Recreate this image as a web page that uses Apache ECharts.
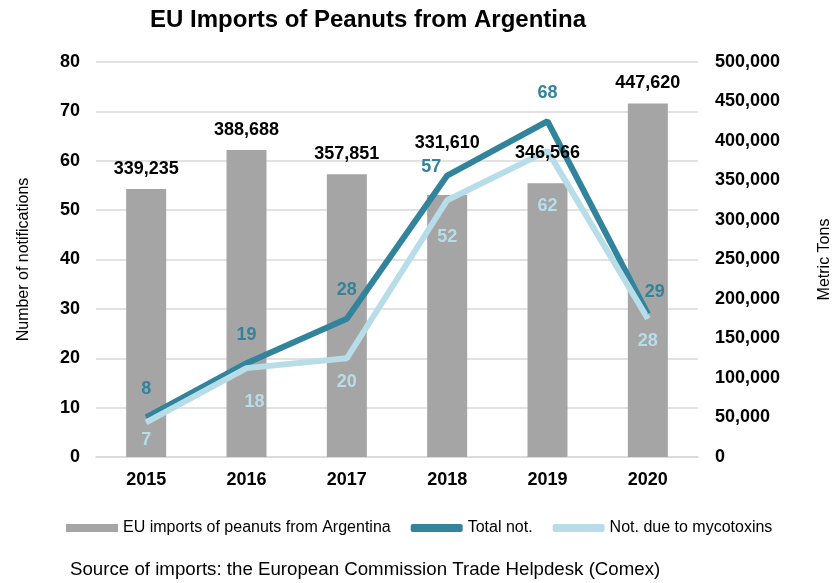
<!DOCTYPE html>
<html>
<head>
<meta charset="utf-8">
<script src="https://cdn.jsdelivr.net/npm/echarts@6/dist/echarts.min.js"></script>
<style>
  html, body { margin: 0; padding: 0; background: #fff; }
  #chart { width: 834px; height: 583px; }
</style>
</head>
<body>
<div id="chart"></div>
<script>
var years = ['2015', '2016', '2017', '2018', '2019', '2020'];
var importsTons = [339235, 388688, 357851, 331610, 346566, 447620];
var totalNot = [8, 19, 28, 57, 68, 29];
var mycoNot = [7, 18, 20, 52, 62, 28];

// label nudges, so the labels sit where the original puts them
var importsLabelShift = [[0, 0], [0, 0], [0, 0], [0, -32], [0, -10], [0, 0]];
var totalLabelShift = [[0, 0], [0, 0], [0, 0], [-16, 20], [0, 0], [7, 7]];
var mycoLabelShift = [[0, -6], [8, 10], [0, 0], [0, 13], [0, 32], [0, -1]];

var font = 'Liberation Sans, Arial, sans-serif';

function withShift(values, shifts) {
	return values.map(function(v, i) {
		return { value: v, label: { offset: shifts[i] } };
	});
}

var chart = echarts.init(document.getElementById('chart'));

var option = {
	animation: false,
	textStyle: { fontFamily: font },
	title: {
		text: 'EU Imports of Peanuts from Argentina',
		left: 363,
		textAlign: 'center',
		top: 3,
		textStyle: { fontFamily: font, fontSize: 24, fontWeight: 'bold', color: '#000' }
	},
	graphic: [{
		type: 'text',
		left: 70,
		top: 560,
		style: {
			text: 'Source of imports: the European Commission Trade Helpdesk (Comex)',
			font: '18.7px ' + font,
			fill: '#000'
		}
	}],
	legend: {
		left: 61,
		top: 515,
		itemWidth: 52,
		itemHeight: 8,
		itemGap: 20,
		textStyle: { fontFamily: font, fontSize: 16, color: '#000' },
		data: [
			{ name: 'EU imports of peanuts from Argentina', icon: 'rect' },
			{ name: 'Total not.', icon: 'roundRect' },
			{ name: 'Not. due to mycotoxins', icon: 'roundRect' }
		]
	},
	grid: { left: 96, right: 136, top: 62, bottom: 126, outerBoundsMode: 'none' },
	xAxis: {
		type: 'category',
		data: years,
		axisTick: { show: false },
		axisLine: { lineStyle: { color: '#d9d9d9', width: 1.5 } },
		axisLabel: { color: '#000', fontSize: 18, fontWeight: 'bold', margin: 14, fontFamily: font }
	},
	yAxis: [{
		type: 'value',
		min: 0,
		max: 80,
		interval: 10,
		name: 'Number of notifications',
		nameLocation: 'middle',
		nameGap: 64,
		nameTextStyle: { color: '#000', fontSize: 16, fontFamily: font },
		axisLine: { show: false },
		axisTick: { show: false },
		axisLabel: { color: '#000', fontSize: 18, fontWeight: 'bold', margin: 16, fontFamily: font },
		splitLine: { lineStyle: { color: '#d9d9d9', width: 1.5 } }
	}, {
		type: 'value',
		min: 0,
		max: 500000,
		interval: 50000,
		name: 'Metric Tons',
		nameLocation: 'middle',
		nameGap: 119,
		nameRotate: 90,
		nameTextStyle: { color: '#000', fontSize: 16, fontFamily: font },
		axisLine: { show: false },
		axisTick: { show: false },
		splitLine: { show: false },
		axisLabel: {
			color: '#000', fontSize: 18, fontWeight: 'bold', margin: 17, fontFamily: font,
			formatter: function(v) { return v.toLocaleString('en-US'); }
		}
	}],
	series: [{
		name: 'EU imports of peanuts from Argentina',
		type: 'bar',
		yAxisIndex: 1,
		barWidth: 40,
		itemStyle: { color: '#a5a5a5' },
		data: importsTons
	}, {
		name: 'Total not.',
		type: 'line',
		symbol: 'circle',
		symbolSize: 1,
		lineStyle: { color: '#31849b', width: 6 },
		itemStyle: { color: '#31849b' },
		label: {
			show: true,
			position: 'top',
			distance: 19,
			color: '#31849b',
			fontSize: 18,
			fontWeight: 'bold',
			fontFamily: font
		},
		data: withShift(totalNot, totalLabelShift)
	}, {
		name: 'Not. due to mycotoxins',
		type: 'line',
		symbol: 'circle',
		symbolSize: 1,
		lineStyle: { color: '#b7dde8', width: 6 },
		itemStyle: { color: '#b7dde8' },
		label: {
			show: true,
			position: 'bottom',
			distance: 14,
			color: '#b7dde8',
			fontSize: 18,
			fontWeight: 'bold',
			fontFamily: font
		},
		data: withShift(mycoNot, mycoLabelShift)
	}, {
		// invisible copy of the bars, only to draw their labels above the lines
		name: 'importsLabels',
		type: 'bar',
		yAxisIndex: 1,
		barWidth: 40,
		barGap: '-100%',
		z: 10,
		silent: true,
		itemStyle: { color: 'rgba(0,0,0,0)' },
		label: {
			show: true,
			position: 'top',
			distance: 11,
			color: '#000',
			fontSize: 18,
			fontWeight: 'bold',
			fontFamily: font,
			formatter: function(p) { return p.value.toLocaleString('en-US'); }
		},
		data: withShift(importsTons, importsLabelShift)
	}]
};

chart.setOption(option);
</script>
</body>
</html>
